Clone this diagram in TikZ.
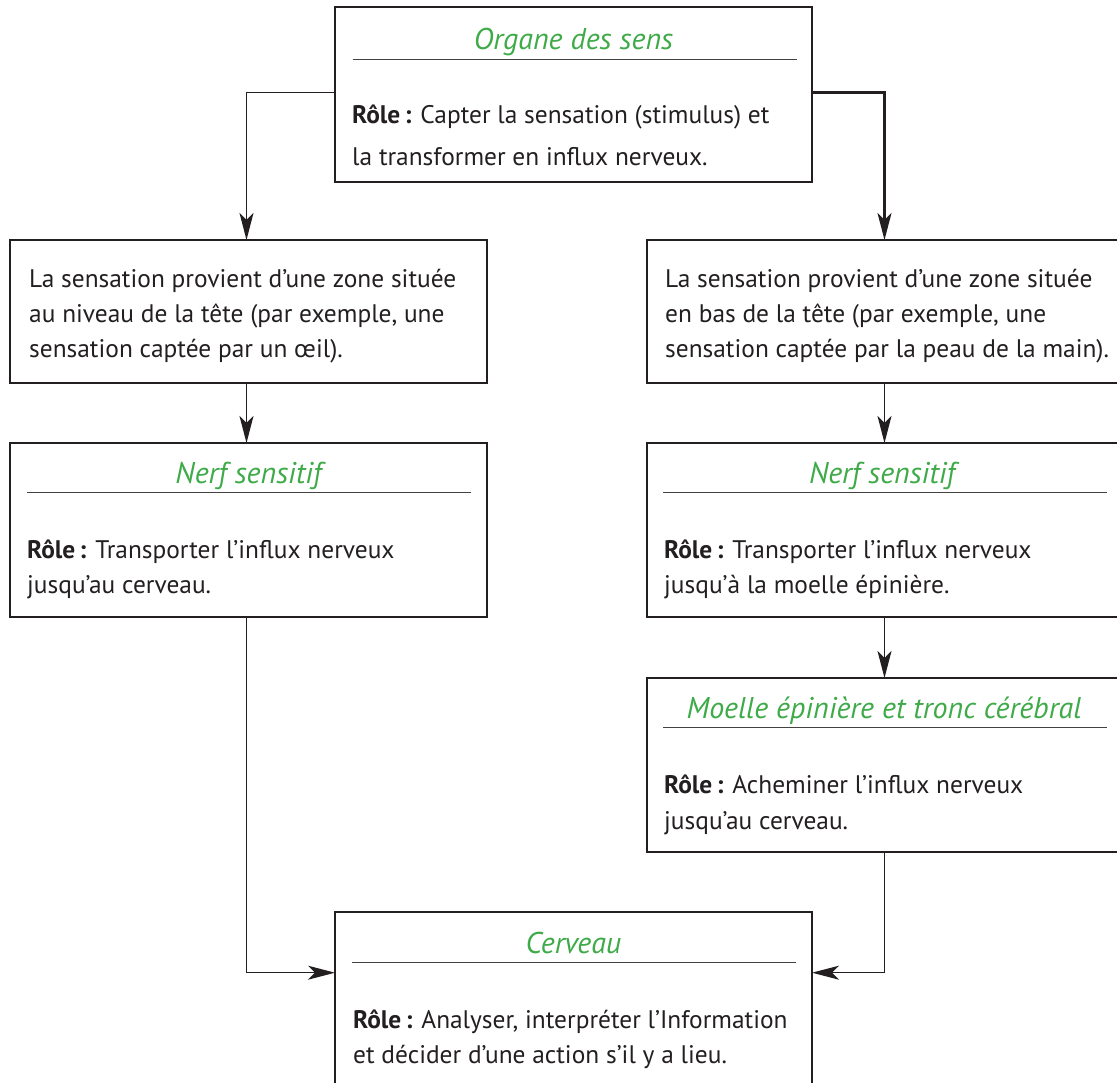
\documentclass[tikz,border=0pt]{standalone}
\usepackage{fontspec}
\setmainfont{PT Sans}
\usetikzlibrary{arrows.meta}
\definecolor{titlegreen}{RGB}{62,170,72}
\definecolor{ink}{RGB}{35,31,32}
\begin{document}
\begin{tikzpicture}[x=1pt,y=-1pt,
  box/.style={draw=ink, line width=1.2pt, inner sep=0pt, outer sep=0pt, minimum width=477pt, anchor=north west},
  thickbox/.style={box, line width=2.3pt},
  body/.style={anchor=base west, inner sep=0pt, text=ink, font=\fontsize{25.4}{35}\selectfont},
  ttl/.style={anchor=base, inner sep=0pt, text=titlegreen, font=\fontsize{30}{34}\selectfont\itshape},
  titlerule/.style={draw=ink!85, line width=1pt},
  arr/.style={draw=ink, line width=1.3pt, -{Stealth[length=27pt,width=14pt,inset=7pt]}},
  thickarr/.style={arr, line width=2.3pt}
]
\useasboundingbox (0,0) rectangle (1117,1083);

% boxes
\node[box, minimum height=175pt] (top) at (335,7) {};
\node[thickbox, minimum height=143pt] (lbox) at (10,240) {};
\node[thickbox, minimum height=143pt] (rbox) at (647,240) {};
\node[box, minimum height=174pt] (lnerf) at (10,443) {};
\node[box, minimum height=174pt] (rnerf) at (647,443) {};
\node[box, minimum height=174pt] (moelle) at (647,678) {};
\node[box, minimum height=183pt] (cerveau) at (335,912) {};

% titles
\node[ttl] (toptitle) at (573.5,50) {Organe des sens};
\node[ttl] (lnerftitle) at (248.5,483) {Nerf sensitif};
\node[ttl] (rnerftitle) at (882,483) {Nerf sensitif};
\node[ttl] (moelletitle) at (884,718) {Moelle épinière et tronc cérébral};
\node[ttl] (cerveautitle) at (573.5,953) {Cerveau};

% title rules
\draw[titlerule] ([xshift=17.5pt,yshift=-52.3pt]top.north west) -- ([xshift=-15pt,yshift=-52.3pt]top.north east);
\draw[titlerule] ([xshift=17pt,yshift=-49.7pt]lnerf.north west) -- ([xshift=-16pt,yshift=-49.7pt]lnerf.north east);
\draw[titlerule] ([xshift=16pt,yshift=-49.7pt]rnerf.north west) -- ([xshift=-17pt,yshift=-49.7pt]rnerf.north east);
\draw[titlerule] ([xshift=16pt,yshift=-49.7pt]moelle.north west) -- ([xshift=-17pt,yshift=-49.7pt]moelle.north east);
\draw[titlerule] ([xshift=17pt,yshift=-50.3pt]cerveau.north west) -- ([xshift=-16pt,yshift=-50.3pt]cerveau.north east);

% body texts
\node[body] (top1) at (352,124) {\textbf{Rôle\,:} Capter la sensation (stimulus) et};
\node[body] (top2) at (352,166) {la transformer en influx nerveux.};

\node[body] (l1) at (29,288) {La sensation provient d’une zone située};
\node[body] (l2) at (29,323) {au niveau de la tête (par exemple, une};
\node[body] (l3) at (29,358) {sensation captée par un œil).};

\node[body] (r1) at (665,288) {La sensation provient d’une zone située};
\node[body] (r2) at (665,323) {en bas de la tête (par exemple, une};
\node[body] (r3) at (665,358) {sensation captée par la peau de la main).};

\node[body] (ln1) at (27,558) {\textbf{Rôle\,:} Transporter l’influx nerveux};
\node[body] (ln2) at (27,593) {jusqu’au cerveau.};

\node[body] (rn1) at (664,558) {\textbf{Rôle\,:} Transporter l’influx nerveux};
\node[body] (rn2) at (664,593) {jusqu’à la moelle épinière.};

\node[body] (m1) at (664,793) {\textbf{Rôle\,:} Acheminer l’influx nerveux};
\node[body] (m2) at (664,829) {jusqu’au cerveau.};

\node[body] (c1) at (353,1028) {\textbf{Rôle\,:} Analyser, interpréter l’Information};
\node[body] (c2) at (353,1063) {et décider d’une action s’il y a lieu.};

% connectors
\draw[arr] ([yshift=2pt]top.west) -| ([xshift=-2pt]lbox.north);
\draw[thickarr] ([yshift=2pt]top.east) -| ([xshift=-1pt]rbox.north);
\draw[arr] ([xshift=-2pt]lbox.south) -- ([xshift=-2pt]lnerf.north);
\draw[arr] ([xshift=-1pt]rbox.south) -- ([xshift=-1pt]rnerf.north);
\draw[arr] ([xshift=-1pt]rnerf.south) -- ([xshift=-1pt]moelle.north);
\draw[arr] ([xshift=-2pt]lnerf.south) |- ([yshift=-60.7pt]cerveau.north west);
\draw[arr] ([xshift=-1pt]moelle.south) |- ([yshift=-60.7pt]cerveau.north east);
\end{tikzpicture}
\end{document}
